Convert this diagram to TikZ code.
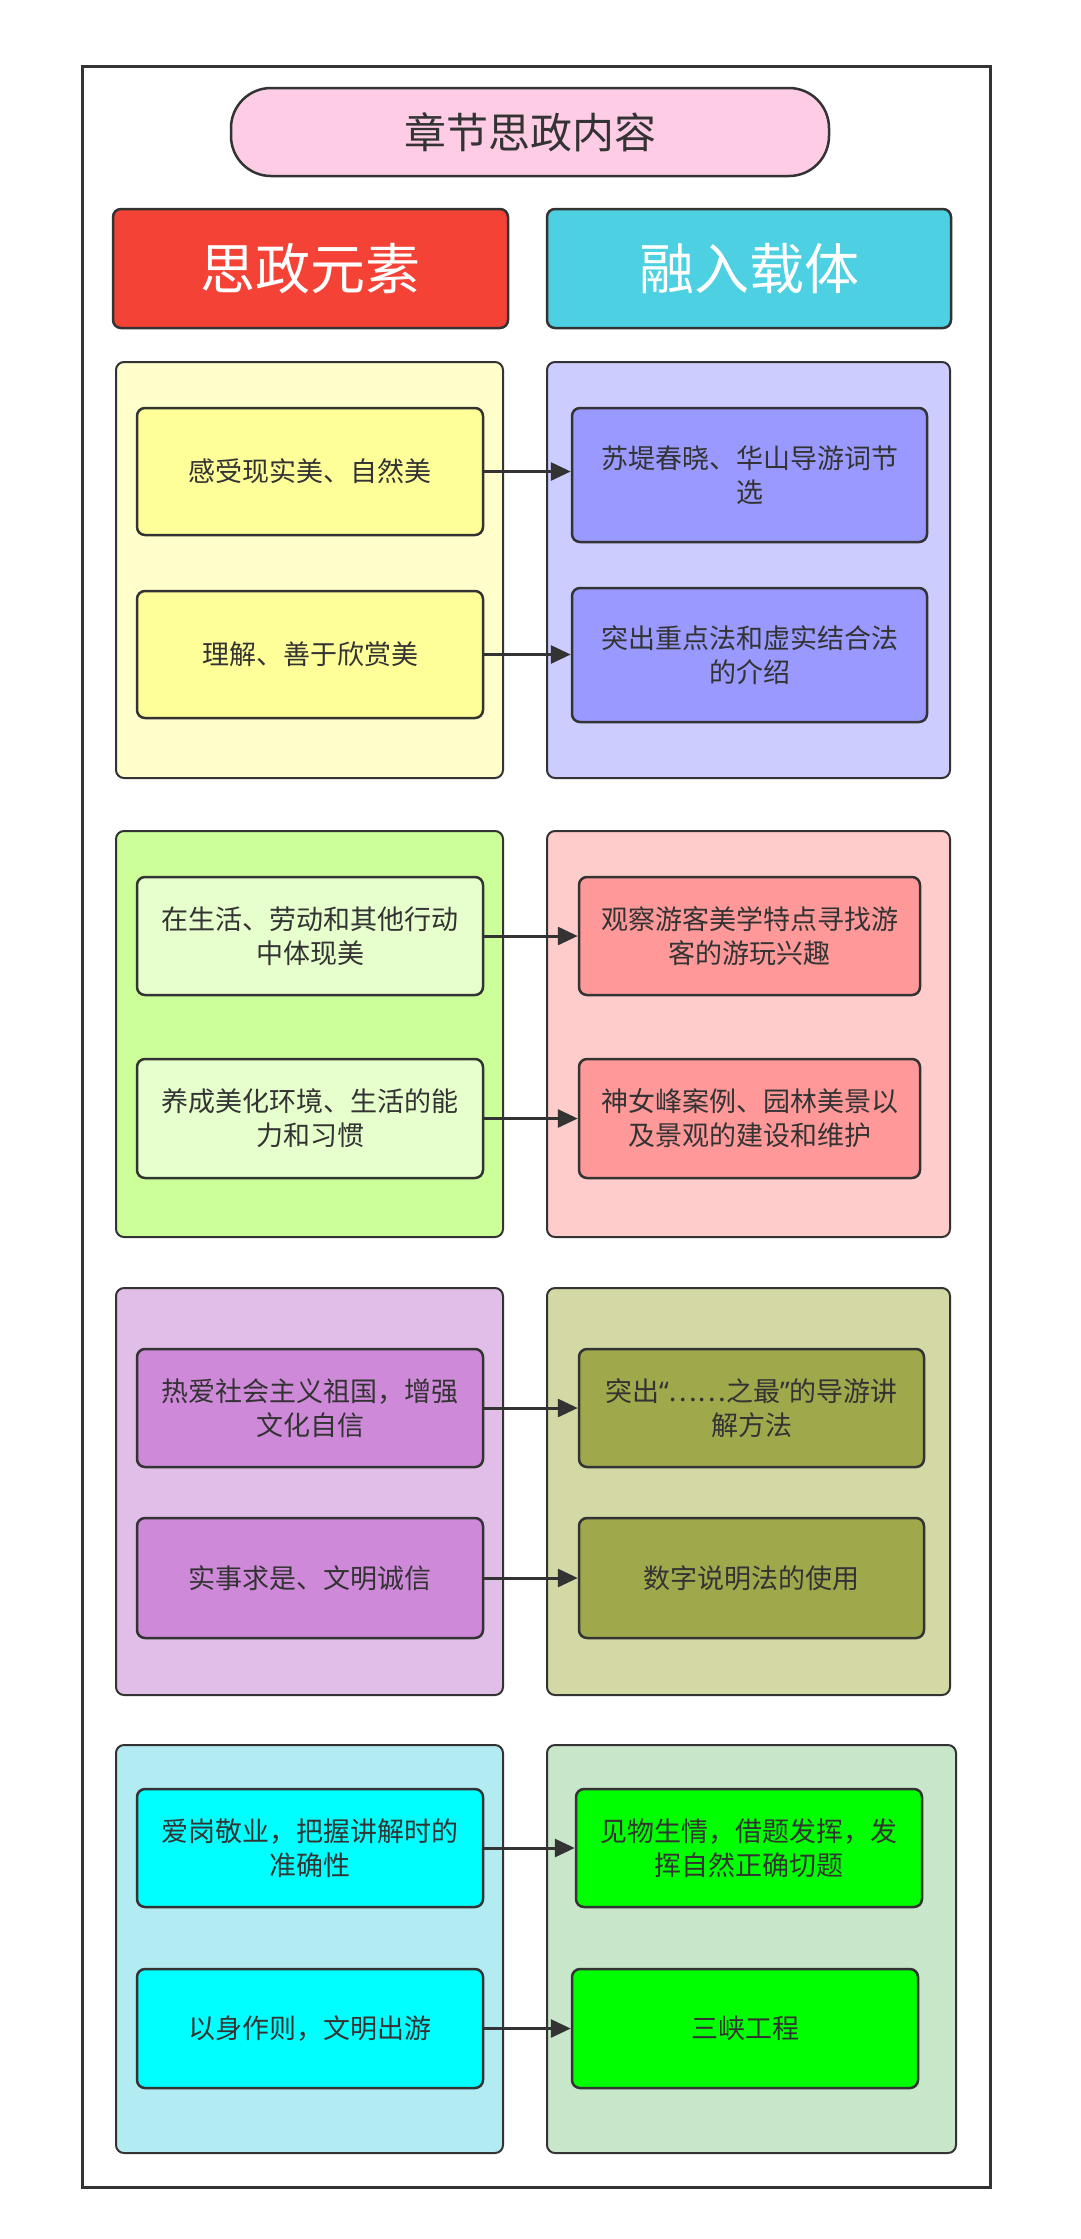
\documentclass[tikz,border=0pt]{standalone}
\usepackage{fontspec}
\setmainfont{Noto Sans CJK SC}
\newfontfamily\latinq{Noto Sans}
\usetikzlibrary{arrows.meta}
\definecolor{edge}{HTML}{333333}
\definecolor{txt}{HTML}{333333}
\definecolor{titlefill}{HTML}{FFCCE6}
\definecolor{hred}{HTML}{F44336}
\definecolor{hcyan}{HTML}{4DD0E1}
\definecolor{gaL}{HTML}{FFFFCC}
\definecolor{iaL}{HTML}{FFFF99}
\definecolor{gaR}{HTML}{CCCCFF}
\definecolor{iaR}{HTML}{9999FF}
\definecolor{gbL}{HTML}{CCFF99}
\definecolor{ibL}{HTML}{E6FFCC}
\definecolor{gbR}{HTML}{FFCCCC}
\definecolor{ibR}{HTML}{FF9999}
\definecolor{gcL}{HTML}{E1BEE7}
\definecolor{icL}{HTML}{CE89D9}
\definecolor{gcR}{HTML}{D3D8A5}
\definecolor{icR}{HTML}{A0A84C}
\definecolor{gdL}{HTML}{B2EBF2}
\definecolor{idL}{HTML}{00FFFF}
\definecolor{gdR}{HTML}{C8E6C9}
\definecolor{idR}{HTML}{00FF00}
\begin{document}
\begin{tikzpicture}[x=1pt,y=-1pt,
  frame/.style={draw=edge,line width=3pt},
  pill/.style={draw=edge,line width=2.5pt,rounded corners=40pt,fill=titlefill,text=txt,
    minimum width=598pt,minimum height=88pt,inner sep=0pt,font=\fontsize{42}{50}\selectfont},
  header/.style={draw=edge,line width=2.5pt,rounded corners=8pt,text=white,
    minimum height=119pt,inner sep=0pt,font=\fontsize{55}{62}\selectfont},
  group/.style={draw=edge,line width=2pt,rounded corners=8pt,inner sep=0pt},
  box/.style={draw=edge,line width=2.5pt,rounded corners=8pt,text=txt,align=center,
    inner sep=0pt,font=\fontsize{27}{34}\selectfont},
  conn/.style={draw=edge,line width=3pt,-{Triangle[length=20pt,width=18pt]}}]
\useasboundingbox (0,0) rectangle (1080,2239);
\fill[white] (0,0) rectangle (1080,2239);
\node[frame,minimum width=908pt,minimum height=2121pt,inner sep=0pt] (frame) at (536,1126.5) {};
\node[pill] (title) at (530,132) {章节思政内容};
\node[header,fill=hred,minimum width=395pt] (hl) at (310.5,268.5) {思政元素};
\node[header,fill=hcyan,minimum width=404pt] (hr) at (749,268.5) {融入载体};
% group 1
\node[group,fill=gaL,minimum width=387pt,minimum height=416pt] (g1l) at (309.5,570) {};
\node[group,fill=gaR,minimum width=403pt,minimum height=416pt] (g1r) at (748.5,570) {};
\node[box,fill=iaL,minimum width=346pt,minimum height=127pt] (a1) at (310,471.5) {感受现实美、自然美};
\node[box,fill=iaL,minimum width=346pt,minimum height=127pt] (a2) at (310,654.5) {理解、善于欣赏美};
\node[box,fill=iaR,minimum width=355pt,minimum height=134pt] (b1) at (749.5,475) {苏堤春晓、华山导游词节\\选};
\node[box,fill=iaR,minimum width=355pt,minimum height=134pt] (b2) at (749.5,655) {突出重点法和虚实结合法\\的介绍};
% group 2
\node[group,fill=gbL,minimum width=387pt,minimum height=406pt] (g2l) at (309.5,1034) {};
\node[group,fill=gbR,minimum width=403pt,minimum height=406pt] (g2r) at (748.5,1034) {};
\node[box,fill=ibL,minimum width=346pt,minimum height=118pt] (a3) at (310,936) {在生活、劳动和其他行动\\中体现美};
\node[box,fill=ibL,minimum width=346pt,minimum height=119pt] (a4) at (310,1118.5) {养成美化环境、生活的能\\力和习惯};
\node[box,fill=ibR,minimum width=341pt,minimum height=118pt] (b3) at (749.5,936) {观察游客美学特点寻找游\\客的游玩兴趣};
\node[box,fill=ibR,minimum width=341pt,minimum height=119pt] (b4) at (749.5,1118.5) {神女峰案例、园林美景以\\及景观的建设和维护};
% group 3
\node[group,fill=gcL,minimum width=387pt,minimum height=407pt] (g3l) at (309.5,1491.5) {};
\node[group,fill=gcR,minimum width=403pt,minimum height=407pt] (g3r) at (748.5,1491.5) {};
\node[box,fill=icL,minimum width=346pt,minimum height=118pt] (a5) at (310,1408) {热爱社会主义祖国，增强\\文化自信};
\node[box,fill=icL,minimum width=346pt,minimum height=120pt] (a6) at (310,1578) {实事求是、文明诚信};
\node[box,fill=icR,minimum width=345pt,minimum height=118pt] (b5) at (751.5,1408) {突出{\latinq “}……之最{\latinq ”}的导游讲\\解方法};
\node[box,fill=icR,minimum width=345pt,minimum height=120pt] (b6) at (751.5,1578) {数字说明法的使用};
% group 4
\node[group,fill=gdL,minimum width=387pt,minimum height=408pt] (g4l) at (309.5,1949) {};
\node[group,fill=gdR,minimum width=409pt,minimum height=408pt] (g4r) at (751.5,1949) {};
\node[box,fill=idL,minimum width=346pt,minimum height=118pt] (a7) at (310,1848) {爱岗敬业，把握讲解时的\\准确性};
\node[box,fill=idL,minimum width=346pt,minimum height=119pt] (a8) at (310,2028.5) {以身作则，文明出游};
\node[box,fill=idR,minimum width=346pt,minimum height=118pt] (b7) at (749,1848) {见物生情，借题发挥，发\\挥自然正确切题};
\node[box,fill=idR,minimum width=346pt,minimum height=119pt] (b8) at (745,2028.5) {三峡工程};
% connectors
\foreach \s/\t in {a1/b1,a2/b2,a3/b3,a4/b4,a5/b5,a6/b6,a7/b7,a8/b8}
  \draw[conn] (\s.east) -- (\s.east -| \t.west);
\end{tikzpicture}
\end{document}
